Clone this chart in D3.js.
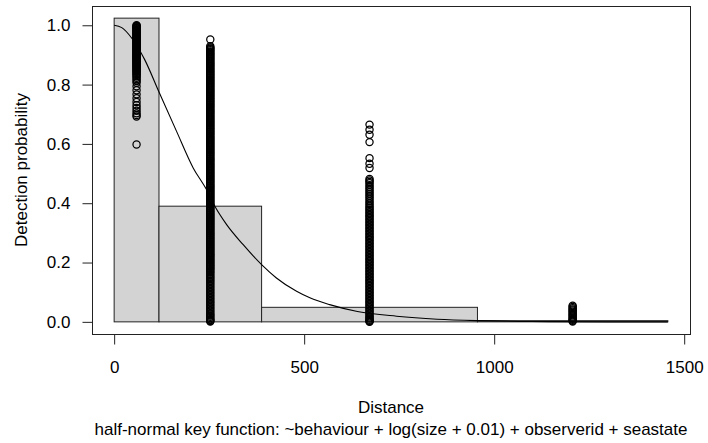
<!DOCTYPE html>
<html>
<head>
<meta charset="utf-8">
<script src="https://cdn.jsdelivr.net/npm/d3@7"></script>
<style>
  body { margin: 0; background: #fff; }
  svg { display: block; font-family: "Liberation Sans", Arial, sans-serif; }
</style>
</head>
<body>
<div id="chart"></div>
<script>
// Histogram of scaled detections (bin edges and heights)
const binEdges = [0, 118, 388, 956, 1457];
const binHeights = [1.024, 0.39, 0.049, 0.004];

// Distances where the fitted probabilities are plotted (bin midpoints)
const pointDist = [59, 253, 672, 1206.5];

// Fitted detection probabilities for each observation, one array per column
const probCol1 = [1.000, 0.998, 0.996, 0.993, 0.991, 0.989, 0.987, 0.984, 0.982, 0.980, 0.978,
  0.975, 0.973, 0.971, 0.969, 0.966, 0.964, 0.961, 0.959, 0.957, 0.955, 0.952, 0.950, 0.948,
  0.946, 0.943, 0.941, 0.938, 0.936, 0.934, 0.932, 0.929, 0.927, 0.924, 0.922, 0.920, 0.918,
  0.915, 0.913, 0.911, 0.909, 0.906, 0.904, 0.901, 0.899, 0.897, 0.895, 0.892, 0.890, 0.888,
  0.886, 0.883, 0.881, 0.878, 0.876, 0.873, 0.871, 0.868, 0.866, 0.863, 0.861, 0.858, 0.855,
  0.852, 0.849, 0.846, 0.843, 0.839, 0.836, 0.832, 0.828, 0.823, 0.818, 0.812, 0.806,
  0.794, 0.781, 0.767, 0.754, 0.741, 0.730, 0.721, 0.712, 0.703, 0.697, 0.692, 0.598];

const probCol2 = [0.952, 0.929, 0.925, 0.922, 0.919, 0.916, 0.912, 0.909, 0.905, 0.902, 0.899,
  0.895, 0.892, 0.888, 0.885, 0.881, 0.878, 0.874, 0.871, 0.867, 0.864, 0.860, 0.857, 0.853,
  0.850, 0.846, 0.843, 0.839, 0.836, 0.832, 0.829, 0.825, 0.822, 0.818, 0.815, 0.811, 0.808,
  0.804, 0.801, 0.797, 0.794, 0.790, 0.787, 0.783, 0.780, 0.776, 0.773, 0.769, 0.766, 0.762,
  0.759, 0.755, 0.752, 0.748, 0.745, 0.741, 0.738, 0.734, 0.731, 0.727, 0.724, 0.720, 0.717,
  0.713, 0.710, 0.706, 0.703, 0.699, 0.696, 0.692, 0.689, 0.685, 0.682, 0.678, 0.675, 0.671,
  0.668, 0.664, 0.661, 0.657, 0.654, 0.650, 0.647, 0.643, 0.640, 0.636, 0.633, 0.629, 0.626,
  0.622, 0.619, 0.615, 0.612, 0.608, 0.605, 0.601, 0.598, 0.594, 0.591, 0.587, 0.584, 0.580,
  0.577, 0.573, 0.570, 0.566, 0.563, 0.559, 0.556, 0.552, 0.549, 0.545, 0.542, 0.538, 0.535,
  0.531, 0.528, 0.524, 0.521, 0.517, 0.514, 0.510, 0.507, 0.503, 0.500, 0.496, 0.493, 0.489,
  0.486, 0.482, 0.479, 0.475, 0.472, 0.468, 0.465, 0.461, 0.458, 0.454, 0.451, 0.447, 0.444,
  0.440, 0.437, 0.433, 0.430, 0.426, 0.423, 0.419, 0.416, 0.412, 0.409, 0.405, 0.402, 0.398,
  0.395, 0.391, 0.388, 0.384, 0.381, 0.377, 0.374, 0.370, 0.367, 0.363, 0.360, 0.356, 0.353,
  0.349, 0.346, 0.342, 0.339, 0.335, 0.332, 0.328, 0.325, 0.321, 0.318, 0.314, 0.311, 0.307,
  0.304, 0.300, 0.297, 0.293, 0.290, 0.286, 0.283, 0.279, 0.276, 0.272, 0.269, 0.265, 0.262,
  0.258, 0.255, 0.251, 0.248, 0.244, 0.241, 0.237, 0.234, 0.230, 0.227, 0.223, 0.220, 0.216,
  0.213, 0.209, 0.206, 0.202, 0.199, 0.195, 0.192, 0.188, 0.185, 0.181, 0.178, 0.174, 0.170,
  0.166, 0.161, 0.157, 0.152, 0.148, 0.144, 0.139, 0.134, 0.129, 0.124, 0.119, 0.114, 0.109,
  0.104, 0.099, 0.094, 0.089, 0.084, 0.079, 0.074, 0.069, 0.064, 0.059, 0.054, 0.049, 0.044,
  0.039, 0.034, 0.029, 0.025, 0.021, 0.017, 0.013, 0.009, 0.006, 0.003, 0.001];

const probCol3 = [0.665, 0.648, 0.631, 0.606, 0.552, 0.533, 0.519, 0.482, 0.477, 0.472, 0.467,
  0.461, 0.455, 0.449, 0.443, 0.437, 0.431, 0.425, 0.419, 0.413, 0.407, 0.401, 0.395, 0.389,
  0.384, 0.379, 0.374, 0.369, 0.364, 0.359, 0.354, 0.349, 0.344, 0.339, 0.334, 0.329, 0.324,
  0.319, 0.314, 0.309, 0.304, 0.299, 0.294, 0.289, 0.284, 0.279, 0.274, 0.269, 0.264, 0.259,
  0.254, 0.249, 0.244, 0.239, 0.234, 0.229, 0.224, 0.219, 0.214, 0.209, 0.204, 0.199, 0.194,
  0.189, 0.184, 0.179, 0.174, 0.169, 0.164, 0.159, 0.154, 0.149, 0.144, 0.139, 0.134, 0.129,
  0.124, 0.119, 0.114, 0.109, 0.104, 0.099, 0.094, 0.089, 0.084, 0.079, 0.074, 0.069, 0.064,
  0.059, 0.054, 0.049, 0.044, 0.039, 0.034, 0.029, 0.024, 0.019, 0.015, 0.011, 0.007, 0.004,
  0.002, 0.000];

const probCol4 = [0.054, 0.050, 0.046, 0.042, 0.038, 0.034, 0.030, 0.026, 0.022, 0.018, 0.014,
  0.010, 0.007, 0.004, 0.001];

// Average fitted detection function
const curveDist = [0, 20, 46, 80, 118, 164, 208, 243, 265, 296, 339, 388, 427, 480, 515,
  567, 640, 743, 850, 957, 1100, 1300, 1457];
const curveProb = [1.000, 0.992, 0.957, 0.885, 0.775, 0.643, 0.519, 0.446, 0.390, 0.328,
  0.261, 0.193, 0.148, 0.103, 0.081, 0.058, 0.035, 0.019, 0.009, 0.004, 0.001, 0.000, 0.000];

const xTicks = [0, 500, 1000, 1500];
const yTicks = [0, 0.2, 0.4, 0.6, 0.8, 1.0];

const xLabel = "Distance";
const subLabel = "half-normal key function: ~behaviour + log(size + 0.01) + observerid + seastate";
const yLabel = "Detection probability";

function drawChart() {
    const width = 708, height = 443;
    const box = { left: 92, right: 690, top: 6, bottom: 334 };
    const fontSize = "17px";

    const svg = d3.select('#chart')
        .append('svg')
        .attr('width', width)
        .attr('height', height);

    // R style 4% axis expansion
    const xMax = binEdges[binEdges.length - 1];
    const yMax = d3.max(binHeights);
    const x = d3.scaleLinear()
        .domain([-0.04 * xMax, 1.04 * xMax])
        .range([box.left, box.right]);
    const y = d3.scaleLinear()
        .domain([-0.04 * yMax, 1.04 * yMax])
        .range([box.bottom, box.top]);

    // Histogram bars
    const bins = binHeights.map((h, i) => ({ x0: binEdges[i], x1: binEdges[i + 1], h: h }));
    svg.append("g")
        .selectAll("rect")
        .data(bins)
        .join("rect")
        .attr("x", d => x(d.x0))
        .attr("y", d => y(d.h))
        .attr("width", d => x(d.x1) - x(d.x0))
        .attr("height", d => y(0) - y(d.h))
        .style("fill", "#d3d3d3")
        .style("stroke", "#222")
        .style("stroke-width", 1);

    // Observation probabilities as open circles
    const cols = [probCol1, probCol2, probCol3, probCol4];
    const points = [];
    cols.forEach((col, i) => col.forEach(p => points.push({ d: pointDist[i], p: p })));
    svg.append("g")
        .selectAll("circle")
        .data(points)
        .join("circle")
        .attr("cx", d => x(d.d))
        .attr("cy", d => y(d.p))
        .attr("r", 3.6)
        .style("fill", "none")
        .style("stroke", "#000")
        .style("stroke-width", 1.25);

    // Detection function curve
    const curve = curveDist.map((d, i) => [d, curveProb[i]]);
    svg.append("path")
        .datum(curve)
        .attr("d", d3.line().x(d => x(d[0])).y(d => y(d[1])).curve(d3.curveMonotoneX))
        .style("fill", "none")
        .style("stroke", "#000")
        .style("stroke-width", 1.1);

    // Box round the plot region
    svg.append("rect")
        .attr("x", box.left + 0.5)
        .attr("y", box.top + 0.5)
        .attr("width", box.right - box.left)
        .attr("height", box.bottom - box.top)
        .style("fill", "none")
        .style("stroke", "#222")
        .style("stroke-width", 1);

    // Axes
    const xAxis = svg.append("g")
        .attr("transform", `translate(0,${box.bottom + 0.5})`)
        .call(d3.axisBottom(x).tickValues(xTicks).tickFormat(d3.format("d")).tickSize(10).tickPadding(16));
    const yAxis = svg.append("g")
        .attr("transform", `translate(${box.left + 0.5},0)`)
        .call(d3.axisLeft(y).tickValues(yTicks).tickFormat(d3.format(".1f")).tickSize(10).tickPadding(12));

    [xAxis, yAxis].forEach(ax => {
        ax.select(".domain").remove();
        ax.selectAll("line").style("stroke", "#222");
        ax.selectAll("text")
            .style("font-size", fontSize)
            .style("fill", "#000")
            .style("font-family", '"Liberation Sans", Arial, sans-serif');
    });

    // Titles
    svg.append("text")
        .attr("x", (box.left + box.right) / 2)
        .attr("y", 413)
        .attr("text-anchor", "middle")
        .style("font-size", fontSize)
        .text(xLabel);

    svg.append("text")
        .attr("x", (box.left + box.right) / 2)
        .attr("y", 435)
        .attr("text-anchor", "middle")
        .style("font-size", fontSize)
        .text(subLabel);

    svg.append("text")
        .attr("transform", `translate(27,${(box.top + box.bottom) / 2}) rotate(-90)`)
        .attr("text-anchor", "middle")
        .style("font-size", fontSize)
        .text(yLabel);
}

drawChart();
</script>
</body>
</html>
